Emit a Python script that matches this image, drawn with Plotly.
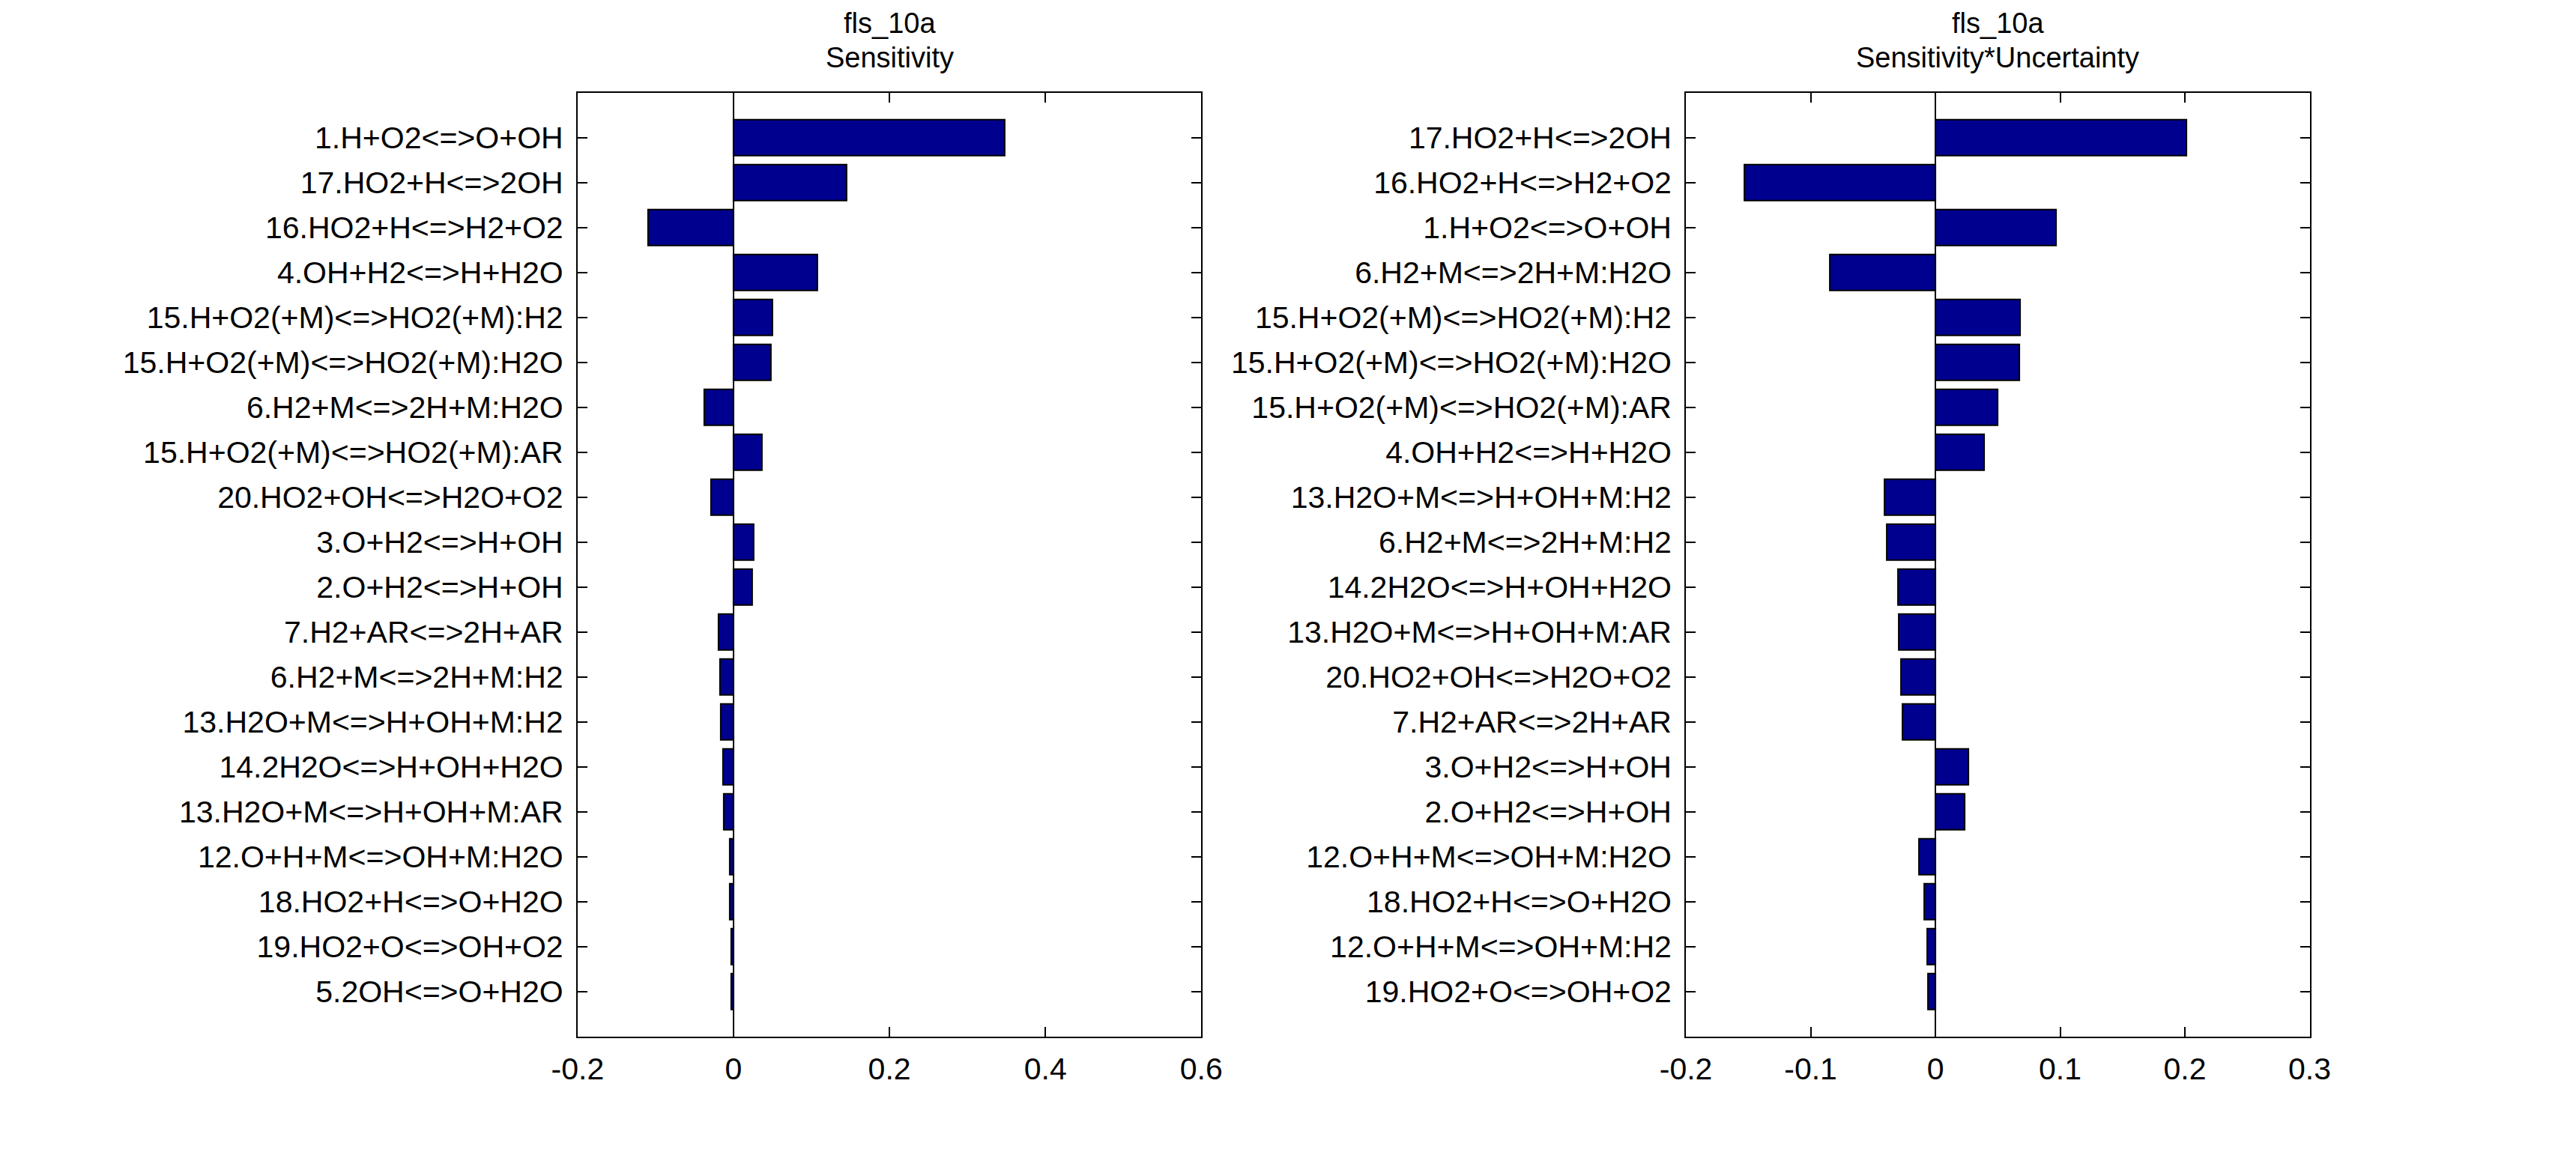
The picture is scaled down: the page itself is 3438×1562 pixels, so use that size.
import plotly.graph_objects as go

# ---------------- data ----------------
left_labels = [
    "1.H+O2<=>O+OH",
    "17.HO2+H<=>2OH",
    "16.HO2+H<=>H2+O2",
    "4.OH+H2<=>H+H2O",
    "15.H+O2(+M)<=>HO2(+M):H2",
    "15.H+O2(+M)<=>HO2(+M):H2O",
    "6.H2+M<=>2H+M:H2O",
    "15.H+O2(+M)<=>HO2(+M):AR",
    "20.HO2+OH<=>H2O+O2",
    "3.O+H2<=>H+OH",
    "2.O+H2<=>H+OH",
    "7.H2+AR<=>2H+AR",
    "6.H2+M<=>2H+M:H2",
    "13.H2O+M<=>H+OH+M:H2",
    "14.2H2O<=>H+OH+H2O",
    "13.H2O+M<=>H+OH+M:AR",
    "12.O+H+M<=>OH+M:H2O",
    "18.HO2+H<=>O+H2O",
    "19.HO2+O<=>OH+O2",
    "5.2OH<=>O+H2O",
]
left_values = [0.348, 0.145, -0.110, 0.108, 0.050, 0.048, -0.038, 0.036, -0.029, 0.026,
               0.024, -0.0194, -0.0178, -0.0169, -0.0131, -0.0130, -0.0047, -0.0046,
               -0.0028, -0.0027]

right_labels = [
    "17.HO2+H<=>2OH",
    "16.HO2+H<=>H2+O2",
    "1.H+O2<=>O+OH",
    "6.H2+M<=>2H+M:H2O",
    "15.H+O2(+M)<=>HO2(+M):H2",
    "15.H+O2(+M)<=>HO2(+M):H2O",
    "15.H+O2(+M)<=>HO2(+M):AR",
    "4.OH+H2<=>H+H2O",
    "13.H2O+M<=>H+OH+M:H2",
    "6.H2+M<=>2H+M:H2",
    "14.2H2O<=>H+OH+H2O",
    "13.H2O+M<=>H+OH+M:AR",
    "20.HO2+OH<=>H2O+O2",
    "7.H2+AR<=>2H+AR",
    "3.O+H2<=>H+OH",
    "2.O+H2<=>H+OH",
    "12.O+H+M<=>OH+M:H2O",
    "18.HO2+H<=>O+H2O",
    "12.O+H+M<=>OH+M:H2",
    "19.HO2+O<=>OH+O2",
]
right_values = [0.201, -0.153, 0.097, -0.0845, 0.068, 0.0675, 0.050, 0.039, -0.041, -0.039,
                -0.0302, -0.0294, -0.0276, -0.0265, 0.0263, 0.0235, -0.0129, -0.0090,
                -0.0067, -0.0059]

left_xticks = [-0.2, 0, 0.2, 0.4, 0.6]
left_xticktext = ["-0.2", "0", "0.2", "0.4", "0.6"]
right_xticks = [-0.2, -0.1, 0, 0.1, 0.2, 0.3]
right_xticktext = ["-0.2", "-0.1", "0", "0.1", "0.2", "0.3"]

title_top = "fls_10a"
left_subtitle = "Sensitivity"
right_subtitle = "Sensitivity*Uncertainty"

# ---------------- styling ----------------
W, H = 3438, 1562
FONT = "Liberation Sans, Arial, Helvetica, sans-serif"
FS = 41
TFS = 38
BAR_COLOR = "rgb(0,0,143)"

dom_left = [745 / W, 1597 / W]
dom_right = [2259 / W, 3111 / W]
dom_y = [(H - 1390) / H, (H - 117) / H]

fig = go.Figure()

left_pos = list(range(1, len(left_labels) + 1))
right_pos = list(range(1, len(right_labels) + 1))

fig.add_trace(go.Bar(
    x=left_values, y=left_pos, orientation="h", width=0.8,
    marker=dict(color=BAR_COLOR, line=dict(color="black", width=2)),
    xaxis="x", yaxis="y", showlegend=False,
))
fig.add_trace(go.Bar(
    x=right_values, y=right_pos, orientation="h", width=0.8,
    marker=dict(color=BAR_COLOR, line=dict(color="black", width=2)),
    xaxis="x2", yaxis="y2", showlegend=False,
))

axis_common = dict(
    showline=True, linecolor="black", linewidth=2, mirror="ticks",
    ticks="inside", ticklen=13, tickwidth=1.5, tickcolor="black",
    showgrid=False,
    tickfont=dict(family=FONT, size=FS, color="black"),
)

fig.update_layout(
    xaxis=dict(domain=dom_left, anchor="y", range=[-0.2, 0.6],
               tickmode="array", tickvals=left_xticks, ticktext=left_xticktext,
               zeroline=True, zerolinecolor="black", zerolinewidth=1.5,
               ticklabelstandoff=6, **axis_common),
    yaxis=dict(domain=dom_y, anchor="x", range=[len(left_labels) + 1, 0],
               tickmode="array", tickvals=left_pos, ticktext=left_labels,
               zeroline=False, ticklabelstandoff=9, **axis_common),
    xaxis2=dict(domain=dom_right, anchor="y2", range=[-0.2, 0.3],
                tickmode="array", tickvals=right_xticks, ticktext=right_xticktext,
                zeroline=True, zerolinecolor="black", zerolinewidth=1.5,
                ticklabelstandoff=6, **axis_common),
    yaxis2=dict(domain=dom_y, anchor="x2", range=[len(right_labels) + 1, 0],
                tickmode="array", tickvals=right_pos, ticktext=right_labels,
                zeroline=False, ticklabelstandoff=9, **axis_common),
    margin=dict(l=0, r=0, t=0, b=0),
    paper_bgcolor="white",
    plot_bgcolor="white",
    font=dict(family=FONT, size=FS, color="black"),
    bargap=0,
)

def py(px):
    return 1 - px / H

for dom, sub in [(dom_left, left_subtitle), (dom_right, right_subtitle)]:
    cx = (dom[0] + dom[1]) / 2
    fig.add_annotation(text=title_top, x=cx, y=py(0), xref="paper", yref="paper",
                       xanchor="center", yanchor="top", showarrow=False,
                       font=dict(family=FONT, size=TFS, color="black"))
    fig.add_annotation(text=sub, x=cx, y=py(93), xref="paper", yref="paper",
                       xanchor="center", yanchor="bottom", showarrow=False,
                       font=dict(family=FONT, size=TFS, color="black"))

fig.write_html("out.html")
